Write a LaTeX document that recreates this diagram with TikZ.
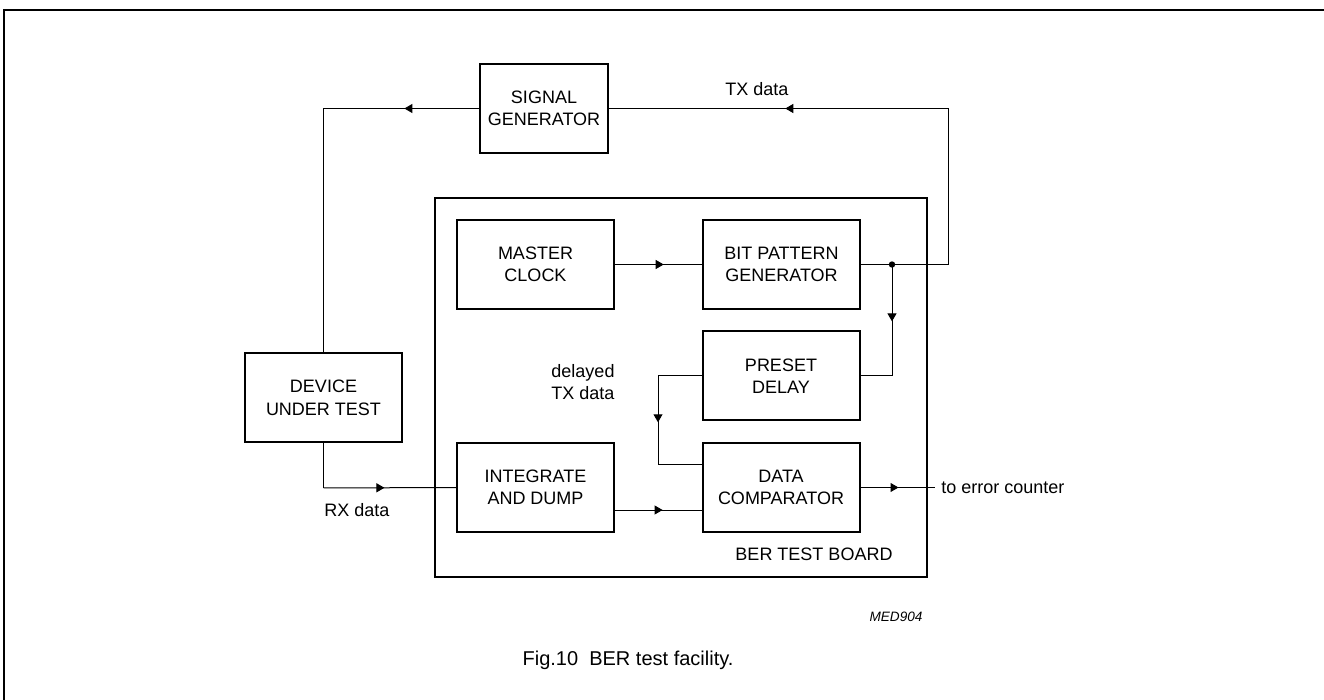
\documentclass[tikz,border=0pt]{standalone}
\usepackage{fontspec}
\setmainfont{Liberation Sans}
\usetikzlibrary{arrows.meta,decorations.markings}

\begin{document}
\begin{tikzpicture}[
  x=0.5pt,y=-0.5pt,
  block/.style={draw,line width=1pt,minimum width=78.5pt,minimum height=44.5pt,align=center,inner sep=0pt},
  signal/.style={line width=0.5pt},
  mid/.style={signal,postaction={decorate},decoration={markings,mark=at position #1 with {\arrow{Triangle[length=4pt,width=4.5pt]}}}},
  every node/.append style={font=\fontsize{9}{11.2}\selectfont}
]
  \useasboundingbox (0,0) rectangle (1324,700);
  \draw[line width=0.8pt] (4,700) -- (4,10) -- (1324,10);

  \node[draw,line width=1pt,minimum width=246pt,minimum height=189.5pt] (board) at (681,387.5) {};
  \node[block,minimum width=64pt] (siggen) at (544,108.5) {SIGNAL\\GENERATOR};
  \node[block] (mclock) at (535.5,264.5) {MASTER\\CLOCK};
  \node[block] (bitgen) at (781.5,264.5) {BIT PATTERN\\GENERATOR};
  \node[block] (delay) at (781,376) {PRESET\\DELAY};
  \node[block] (integ) at (535.5,487.5) {INTEGRATE\\AND DUMP};
  \node[block] (comp) at (781,487.5) {DATA\\COMPARATOR};
  \node[block] (dut) at (323.5,398) {DEVICE\\UNDER TEST};

  \coordinate (tap) at (892,264.5);
  \coordinate (txcorner) at (948,108.5);
  \coordinate (sgcorner) at (323.5,108.5);
  \coordinate (rxcorner) at (323.5,488);
  \coordinate (tapdown) at (892,376);
  \coordinate (fbtop) at (658,376);
  \coordinate (fbbot) at (658,465);
  \coordinate (errout) at (935,487.5);

  % transmit loop
  \draw[signal] (bitgen.east) -- (tap) -| (txcorner);
  \draw[mid=0.48] (txcorner) -- (siggen.east);
  \draw[mid=0.48] (siggen.west) -- (sgcorner);
  \draw[signal] (sgcorner) -- (dut.north);
  \draw[signal] (dut.south) -- (rxcorner);
  \draw[mid=0.46] (rxcorner) -- (integ.west);
  \fill (tap) circle[radius=1.6pt];

  % board internals
  \draw[mid=0.56] (mclock) -- (bitgen);
  \draw[mid=0.51] (tap) -- (tapdown);
  \draw[signal] (tapdown) -- (delay.east);
  \draw[signal] (delay.west) -- (fbtop);
  \draw[mid=0.52] (fbtop) -- (fbbot);
  \draw[signal] (fbbot) -- (fbbot -| comp.west);
  \draw[mid=0.55] ([yshift=-11.25pt]integ.east) -- ([yshift=-11.25pt]comp.west);
  \draw[mid=0.51] (comp.east) -- (errout);

  \node (txlabel) at (757,89) {TX data};
  \node (rxlabel) at (357,510) {RX data};
  \node[align=left] (dlylabel) at (583,382) {delayed\\TX data};
  \node[anchor=west,inner sep=3pt] (errlabel) at (errout) {to error counter};
  \node (boardlabel) at (814,554) {BER TEST BOARD};
  \node[font=\fontsize{6.8}{8}\selectfont\itshape] (code) at (896,617) {MED904};
  \node[font=\fontsize{10}{12}\selectfont] (caption) at (628,660) {Fig.10\ \ BER test facility.};
\end{tikzpicture}
\end{document}
